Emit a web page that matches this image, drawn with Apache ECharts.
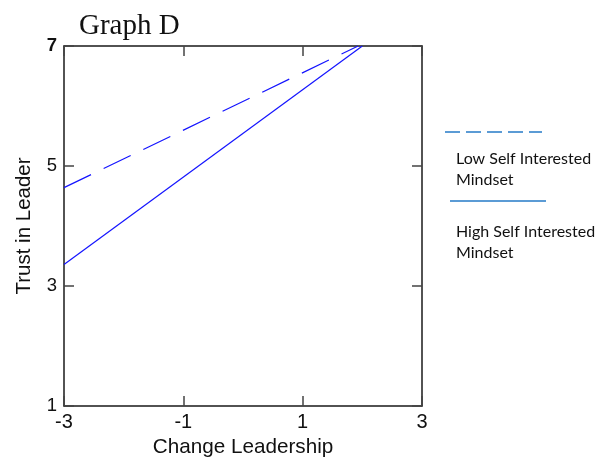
<!DOCTYPE html>
<html>
<head>
<meta charset="utf-8">
<script src="https://cdn.jsdelivr.net/npm/echarts@6/dist/echarts.min.js"></script>
<style>
html,body{margin:0;padding:0;background:#fff;}
#chart{width:605px;height:468px;}
</style>
</head>
<body>
<div id="chart"></div>
<script>
// ---- data ----
var titleText = 'Graph D';
var xName = 'Change Leadership';
var yName = 'Trust in Leader';
var xTicks = [-3, -1, 1, 3];
var yTicks = [1, 3, 5, 7];
var lowSelfX = [-3, 1.93];
var lowSelfY = [4.64, 7];
var highSelfX = [-3, 2];
var highSelfY = [3.36, 7];
var seriesNames = ['Low Self Interested\nMindset', 'High Self Interested\nMindset'];

function pairs(xs, ys) { return xs.map(function (x, i) { return [x, ys[i]]; }); }

var chart = echarts.init(document.getElementById('chart'), null, {renderer: 'canvas'});
var axisCol = '#1a1a1a';
var tickCol = '#444';
var lineBlue = '#1414ff';
var legBlue = '#5b9bd5';

var baseX = {
  type: 'value', min: xTicks[0], max: xTicks[xTicks.length - 1], interval: xTicks[1] - xTicks[0],
  splitLine: {show: false},
  axisLine: {show: true, onZero: false, lineStyle: {color: axisCol, width: 1.5}},
  axisTick: {show: true, inside: true, length: 10, lineStyle: {color: tickCol, width: 1.5}}
};
var baseY = {
  type: 'value', min: yTicks[0], max: yTicks[yTicks.length - 1], interval: yTicks[1] - yTicks[0],
  splitLine: {show: false},
  axisLine: {show: true, onZero: false, lineStyle: {color: axisCol, width: 1.5}},
  axisTick: {show: true, inside: true, length: 10, lineStyle: {color: tickCol, width: 1.5}}
};

var option = {
  animation: false,
  backgroundColor: '#fff',
  title: {
    text: titleText, left: 79, top: 12, padding: 0,
    textStyle: {fontFamily: 'Liberation Serif', fontSize: 29, fontWeight: 'normal', color: '#111'}
  },
  grid: {left: 64, right: 183, top: 46, bottom: 62, containLabel: false},
  xAxis: [
    Object.assign({}, baseX, {
      position: 'bottom',
      name: xName, nameLocation: 'middle', nameGap: 26,
      nameTextStyle: {fontFamily: 'Liberation Sans', fontSize: 20.7, color: '#111'},
      axisLabel: {show: true, margin: 6, fontFamily: 'Liberation Sans', fontSize: 20, color: '#111'}
    }),
    Object.assign({}, baseX, {position: 'top', axisLabel: {show: false}})
  ],
  yAxis: [
    Object.assign({}, baseY, {
      position: 'left',
      name: yName, nameLocation: 'middle', nameGap: 29,
      nameTextStyle: {fontFamily: 'Liberation Sans', fontSize: 20.5, color: '#111'},
      axisLabel: {
        show: true, margin: 7, fontFamily: 'Liberation Sans', fontSize: 18.5, color: '#111',
        formatter: function (v) { return v === yTicks[yTicks.length - 1] ? '{b|' + v + '}' : String(v); },
        rich: {b: {fontFamily: 'Liberation Sans', fontSize: 18.5, fontWeight: 'bold', color: '#111'}}
      }
    }),
    Object.assign({}, baseY, {position: 'right', axisLabel: {show: false}})
  ],
  series: [
    {
      name: seriesNames[0], type: 'line', xAxisIndex: 0, yAxisIndex: 0,
      data: pairs(lowSelfX, lowSelfY), symbol: 'none', silent: true,
      lineStyle: {color: lineBlue, width: 1.2, type: [30, 14]}
    },
    {
      name: seriesNames[1], type: 'line', xAxisIndex: 0, yAxisIndex: 0,
      data: pairs(highSelfX, highSelfY), symbol: 'none', silent: true,
      lineStyle: {color: lineBlue, width: 1.2, type: 'solid'}
    }
  ],
  graphic: [
    {type: 'line', shape: {x1: 445, y1: 132, x2: 542, y2: 132},
     style: {stroke: legBlue, lineWidth: 2, lineDash: [15, 6]}},
    {type: 'text', left: 456, top: 148,
     style: {text: seriesNames[0], font: '16px Lato', fill: '#111', lineHeight: 21}},
    {type: 'line', shape: {x1: 450, y1: 201, x2: 546, y2: 201},
     style: {stroke: legBlue, lineWidth: 2}},
    {type: 'text', left: 456, top: 221,
     style: {text: seriesNames[1], font: '16px Lato', fill: '#111', lineHeight: 21}}
  ]
};
chart.setOption(option);
</script>
</body>
</html>
